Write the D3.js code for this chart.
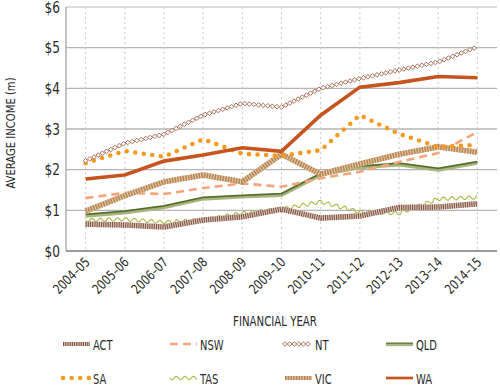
<!DOCTYPE html>
<meta charset="utf-8">
<style>
body { margin: 0; background: #fff; }
text { font-family: "DejaVu Sans Condensed", Arial; fill: #2a2a2a; }
</style>
<body>
<svg id="chart" width="500" height="390"></svg>
<script src="https://d3js.org/d3.v7.min.js"></script>
<script>

var years = ["2004–05","2005–06","2006–07","2007–08","2008–09","2009–10","2010–11","2011–12","2012–13","2013–14","2014–15"];
var yTicks = [0, 1, 2, 3, 4, 5, 6];

var act = [0.66, 0.64, 0.59, 0.76, 0.84, 1.03, 0.81, 0.86, 1.07, 1.08, 1.16];
var nsw = [1.30, 1.43, 1.40, 1.55, 1.66, 1.58, 1.79, 1.95, 2.19, 2.41, 2.93];
var nt  = [2.22, 2.65, 2.87, 3.34, 3.63, 3.54, 4.00, 4.24, 4.45, 4.65, 5.02];
var qld = [0.88, 0.96, 1.09, 1.30, 1.35, 1.39, 1.89, 2.07, 2.14, 2.01, 2.18];
var sa  = [2.16, 2.46, 2.32, 2.75, 2.39, 2.34, 2.48, 3.34, 2.88, 2.56, 2.61];
var tas = [0.76, 0.78, 0.71, 0.76, 0.93, 1.03, 1.21, 0.96, 0.93, 1.28, 1.32];
var vic = [0.98, 1.36, 1.70, 1.87, 1.70, 2.38, 1.89, 2.14, 2.38, 2.56, 2.43];
var wa  = [1.77, 1.87, 2.21, 2.36, 2.54, 2.45, 3.34, 4.03, 4.14, 4.29, 4.26];

var seriesNames = ["ACT","NSW","NT","QLD","SA","TAS","VIC","WA"];
var seriesValues = [act, nsw, nt, qld, sa, tas, vic, wa];

var svg = d3.select("#chart"),
    margin = {top: 7, right: 3, bottom: 139, left: 66},
    width = +svg.attr("width"),
    height = +svg.attr("height");

var x = d3.scalePoint()
    .domain(years)
    .range([margin.left, width - margin.right])
    .padding(0.5);
var y = d3.scaleLinear()
    .domain([0, 6])
    .range([height - margin.bottom, margin.top]);

// condensed-looking label: translate, rotate, then squeeze horizontally
function label(g, tx, ty, rot, size, sx, anchor, str) {
  return g.append("text")
    .attr("transform", "translate(" + tx + "," + ty + ") rotate(" + rot + ") scale(" + sx + ",1)")
    .attr("text-anchor", anchor)
    .style("font-size", size + "px")
    .text(str);
}

// horizontal grid
svg.append("g")
  .selectAll("line").data(yTicks).enter().append("line")
    .attr("x1", margin.left).attr("x2", width - margin.right)
    .attr("y1", function(d) { return y(d); }).attr("y2", function(d) { return y(d); })
    .attr("stroke-width", function(d) { return d == 0 ? 2 : 1.3; })
    .attr("stroke", function(d) { return d == 6 ? "#d0d0d0" : (d == 0 ? "#9a9a9a" : "#b5b5b5"); });

// vertical dotted grid
svg.append("g")
  .selectAll("line").data(years).enter().append("line")
    .attr("x1", function(d) { return x(d); }).attr("x2", function(d) { return x(d); })
    .attr("y1", y(6)).attr("y2", y(0))
    .attr("stroke", "#c8c8c8").attr("stroke-dasharray", "2,3");

// left axis line
svg.append("line")
  .attr("x1", margin.left).attr("x2", margin.left)
  .attr("y1", y(6)).attr("y2", y(0))
  .attr("stroke", "#b0b0b0").attr("stroke-width", 1.5);

var labels = svg.append("g");
yTicks.forEach(function(d) {
  label(labels, margin.left - 6, y(d) + 5.5, 0, 15, 0.9, "end", "$" + d);
});
years.forEach(function(d) {
  label(labels, x(d) + 5, y(0) + 12, -45, 13.5, 0.86, "end", d);
});
label(labels, 275, 326, 0, 13.5, 0.84, "middle", "FINANCIAL YEAR");
label(labels, 15, (y(0) + y(6)) / 2 + 4, -90, 13, 0.86, "middle", "AVERAGE INCOME (m)");

// ---- line style helpers ----
function samples(pts, stepLen) {
  var lens = [0];
  for (var i = 1; i < pts.length; i++) {
    var dx = pts[i][0] - pts[i-1][0], dy = pts[i][1] - pts[i-1][1];
    lens.push(lens[i-1] + Math.sqrt(dx*dx + dy*dy));
  }
  var total = lens[lens.length - 1], out = [], j = 0;
  for (var s = 0; s <= total; s += stepLen) {
    while (j < pts.length - 2 && lens[j+1] < s) j++;
    var a = pts[j], b = pts[j+1], L = lens[j+1] - lens[j];
    var t = (s - lens[j]) / L;
    out.push({x: a[0] + (b[0]-a[0]) * t, y: a[1] + (b[1]-a[1]) * t,
              nx: -(b[1]-a[1]) / L, ny: (b[0]-a[0]) / L, s: s});
  }
  return out;
}

var line = d3.line();

function drawSeries(g, name, pts, k) {
  k = k || 1;
  if (name == "ACT") {
    g.append("path").attr("d", line(pts)).attr("fill", "none")
      .attr("stroke", "#dcc8bd").attr("stroke-width", 5.5 * k);
    g.append("path").attr("d", line(pts)).attr("fill", "none")
      .attr("stroke", "#805242").attr("stroke-width", 5.5 * k).attr("stroke-dasharray", "1.1,1.1");
  } else if (name == "NSW") {
    g.append("path").attr("d", line(pts)).attr("fill", "none")
      .attr("stroke", "#f5a47c").attr("stroke-width", 2.6).attr("stroke-dasharray", "8,5");
  } else if (name == "NT") {
    g.selectAll(null).data(samples(pts, 4.6)).enter().append("path")
      .attr("d", function(p) { return "M" + (p.x - 2.3) + "," + p.y + "L" + p.x + "," + (p.y - 2.3) +
        "L" + (p.x + 2.3) + "," + p.y + "L" + p.x + "," + (p.y + 2.3) + "Z"; })
      .attr("fill", "#fff").attr("stroke", "#a86d58").attr("stroke-width", 1);
  } else if (name == "QLD") {
    g.append("path").attr("d", line(pts.map(function(p) { return [p[0], p[1] + 1]; }))).attr("fill", "none")
      .attr("stroke", "#a9b57e").attr("stroke-width", 3 * k);
    g.append("path").attr("d", line(pts.map(function(p) { return [p[0], p[1] - 0.8]; }))).attr("fill", "none")
      .attr("stroke", "#55702a").attr("stroke-width", 1.8 * k);
  } else if (name == "SA") {
    g.append("path").attr("d", line(pts)).attr("fill", "none")
      .attr("stroke", "#f39a1f").attr("stroke-width", 4.6)
      .attr("stroke-linecap", "round").attr("stroke-dasharray", "0,8.6");
  } else if (name == "TAS") {
    var wv = samples(pts, 0.5).map(function(p) {
      var o = 1.7 * Math.sin(2 * Math.PI * p.s / 8.5);
      return [p.x + p.nx * o, p.y + p.ny * o];
    });
    g.append("path").attr("d", line(wv)).attr("fill", "none")
      .attr("stroke", "#a9b640").attr("stroke-width", 1.1);
  } else if (name == "VIC") {
    g.append("path").attr("d", line(pts)).attr("fill", "none")
      .attr("stroke", "#e3c9a6").attr("stroke-width", 5.5 * k);
    g.append("path").attr("d", line(pts)).attr("fill", "none")
      .attr("stroke", "#b88654").attr("stroke-width", 5.5 * k).attr("stroke-dasharray", "1.6,1.1");
  } else if (name == "WA") {
    g.append("path").attr("d", line(pts)).attr("fill", "none")
      .attr("stroke", "#c5541f").attr("stroke-width", 3.6 * k);
  }
}

// draw order so that WA/NT sit on top
var order = ["TAS", "ACT", "QLD", "NSW", "VIC", "SA", "NT", "WA"];
order.forEach(function(name) {
  var vals = seriesValues[seriesNames.indexOf(name)];
  var pts = vals.map(function(v, i) { return [x(years[i]), y(v)]; });
  drawSeries(svg.append("g"), name, pts);
});

// legend
var legX = [63, 170, 285, 386], legRowY = [349, 383];
seriesNames.forEach(function(name, i) {
  var col = i % 4, row = Math.floor(i / 4);
  var lx = legX[col], ly = legRowY[row] - 5;
  var g = svg.append("g");
  drawSeries(g, name, [[lx, ly], [lx + 27, ly]], 0.75);
  label(g, lx + 30, legRowY[row] + 1, 0, 13.5, 0.82, "start", name);
});
</script>
</body>
